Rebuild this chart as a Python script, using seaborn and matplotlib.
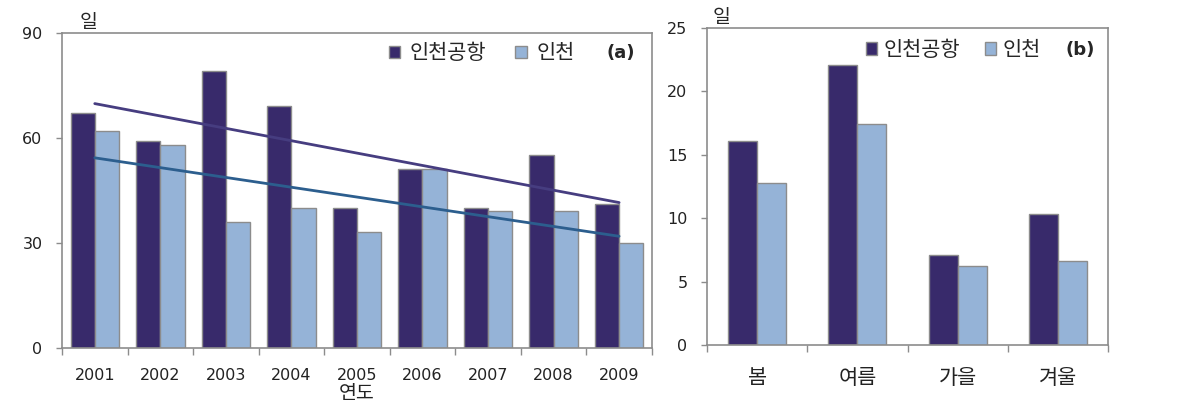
import numpy as np
import pandas as pd
import matplotlib
matplotlib.use('Agg')
import matplotlib.pyplot as plt
import seaborn as sns

sns.set_style('white')
plt.rcParams['font.family'] = ['Noto Sans CJK KR', 'DejaVu Sans']

# data
years = ['2001', '2002', '2003', '2004', '2005', '2006', '2007', '2008', '2009']
airport_year = [67, 59, 79, 69, 40, 51, 40, 55, 41]
incheon_year = [62, 58, 36, 40, 33, 51, 39, 39, 30]

seasons = ['봄', '여름', '가을', '겨울']
airport_season = [16.1, 22.1, 7.1, 10.3]
incheon_season = [12.8, 17.4, 6.2, 6.6]

series_names = ['인천공항', '인천']
bar_colors = ['#382A6B', '#95B3D7']
trend_colors = ['#463D80', '#2C5E8E']
grey = '#8C8C8C'

df_a = pd.DataFrame({'cat': years * 2,
                     'val': airport_year + incheon_year,
                     'site': [series_names[0]] * len(years) + [series_names[1]] * len(years)})
df_b = pd.DataFrame({'cat': seasons * 2,
                     'val': airport_season + incheon_season,
                     'site': [series_names[0]] * len(seasons) + [series_names[1]] * len(seasons)})

fig = plt.figure(figsize=(11.99, 4.13), dpi=100)
ax_a = fig.add_axes([0.0517, 0.1574, 0.492, 0.763])
ax_b = fig.add_axes([0.5897, 0.1646, 0.3344, 0.768])


def style_axes(ax, n, ymax, yticks, cat_labels, cat_fs, cat_pad, cat_family):
    ax.set_xlim(-0.5, n - 0.5)
    ax.set_ylim(0, ymax)
    ax.set_yticks(yticks)
    ax.set_yticklabels([str(t) for t in yticks], fontsize=11.5, family='DejaVu Sans', color='#222222')
    # ticks at category boundaries, labels at centers
    ax.set_xticks(np.arange(-0.5, n, 1.0))
    ax.set_xticklabels([])
    ax.set_xticks(np.arange(n), minor=True)
    ax.set_xticklabels(cat_labels, minor=True, fontsize=cat_fs, family=cat_family, color='#222222')
    ax.tick_params(axis='x', which='major', bottom=True, direction='out', length=5, color=grey, width=1)
    ax.tick_params(axis='x', which='minor', bottom=True, length=0, pad=cat_pad)
    ax.tick_params(axis='y', left=True, direction='out', length=4, color=grey, width=1, pad=10)
    for sp in ax.spines.values():
        sp.set_color(grey)
        sp.set_linewidth(1.2)
    ax.set_ylabel('')
    ax.set_xlabel('')


# (a) yearly
sns.barplot(data=df_a, x='cat', y='val', hue='site', palette=bar_colors, saturation=1, width=0.74,
            edgecolor=grey, linewidth=1, ax=ax_a, legend=True)
xs = np.arange(len(years))
for vals, c in zip([airport_year, incheon_year], trend_colors):
    sns.regplot(x=xs, y=np.array(vals, dtype=float), ci=None, scatter=False, truncate=True,
                line_kws={'color': c, 'lw': 2}, ax=ax_a)
style_axes(ax_a, len(years), 90, [0, 30, 60, 90], years, 11.5, 14.5, 'DejaVu Sans')
fig.text(0.2977, 1 - 394 / 413, '연도', ha='center', va='center', fontsize=14, color='#222222')
ax_a.text(0.045, 1.0, '일', transform=ax_a.transAxes, ha='center', va='bottom', fontsize=14)
ax_a.text(0.972, 0.935, '(a)', transform=ax_a.transAxes, ha='right', va='center',
          fontsize=13, fontweight='bold', family='DejaVu Sans')
h, l = ax_a.get_legend_handles_labels()
ax_a.legend(h[:2], l[:2], loc='center left', bbox_to_anchor=(0.54, 0.935), ncol=2, frameon=False,
            fontsize=15, handlelength=0.55, handleheight=0.55, handletextpad=0.45, columnspacing=1.4,
            borderaxespad=0)

# (b) seasonal
sns.barplot(data=df_b, x='cat', y='val', hue='site', palette=bar_colors, saturation=1, width=0.58,
            edgecolor=grey, linewidth=1, ax=ax_b, legend=True)
style_axes(ax_b, len(seasons), 25, [0, 5, 10, 15, 20, 25], seasons, 15, 16, ['Noto Sans CJK KR', 'DejaVu Sans'])
ax_b.text(0.035, 1.0, '일', transform=ax_b.transAxes, ha='center', va='bottom', fontsize=14)
ax_b.text(0.968, 0.93, '(b)', transform=ax_b.transAxes, ha='right', va='center',
          fontsize=13, fontweight='bold', family='DejaVu Sans')
h, l = ax_b.get_legend_handles_labels()
ax_b.legend(h[:2], l[:2], loc='center left', bbox_to_anchor=(0.375, 0.93), ncol=2, frameon=False,
            fontsize=15, handlelength=0.55, handleheight=0.55, handletextpad=0.3, columnspacing=1.2,
            borderaxespad=0)

fig.savefig('out.png', dpi=100)
